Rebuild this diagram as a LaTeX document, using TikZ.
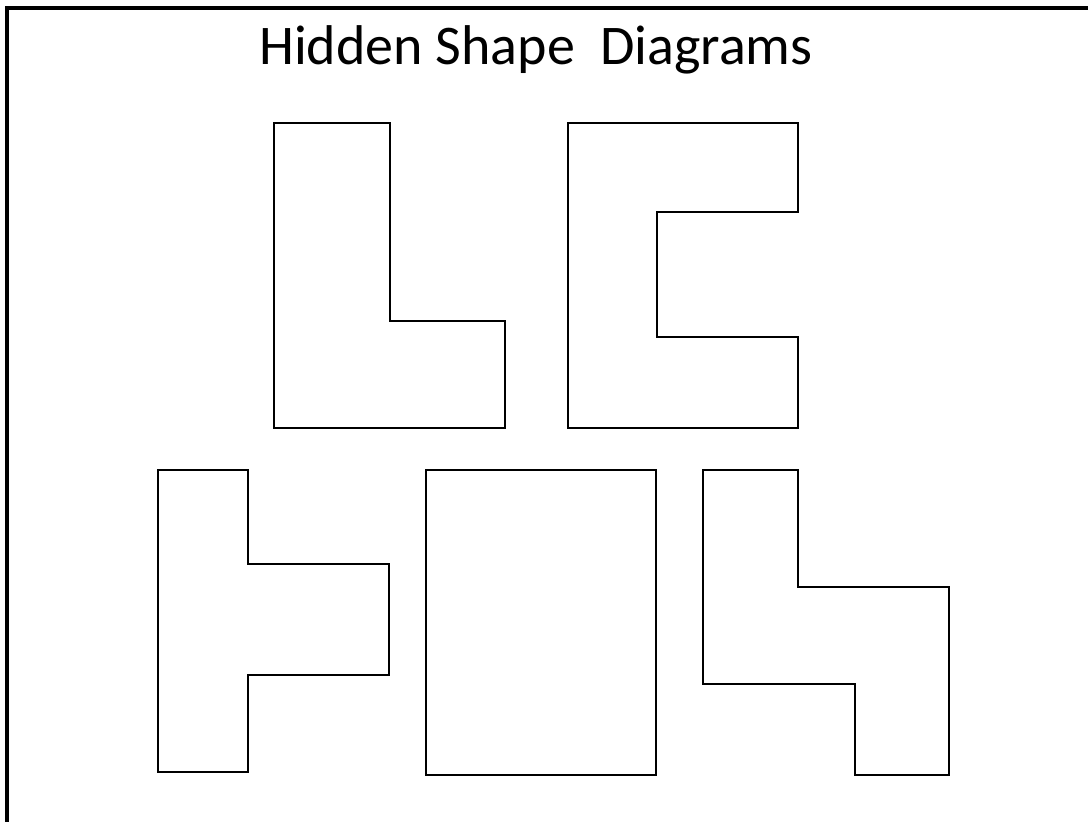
\documentclass[tikz,border=0pt]{standalone}
\usepackage{fontspec}
\setmainfont{Carlito}
\begin{document}
\begin{tikzpicture}[x=0.75pt,y=-0.75pt,
  outline/.style={draw=black,line width=1.6pt,line join=miter},
  borderline/.style={draw=black,line width=2.4pt}]
\clip (0,0) rectangle (1088,821);
\fill[white] (0,0) rectangle (1088,821);
\draw[borderline] (7,8) rectangle (1110,840);
\node[anchor=center,inner sep=0pt] (title) at (536,50) {\fontsize{42}{50}\selectfont Hidden Shape\ \ Diagrams};
% L shape
\draw[outline] (274,123) -- (390,123) -- (390,321) -- (505,321) -- (505,428) -- (274,428) -- cycle;
% C shape
\draw[outline] (568,123) -- (798,123) -- (798,212) -- (657,212) -- (657,337) -- (798,337) -- (798,428) -- (568,428) -- cycle;
% T shape
\draw[outline] (158,470) -- (248,470) -- (248,564) -- (389,564) -- (389,675) -- (248,675) -- (248,772) -- (158,772) -- cycle;
% square
\draw[outline] (426,470) -- (656,470) -- (656,775) -- (426,775) -- cycle;
% S shape
\draw[outline] (703,470) -- (798,470) -- (798,587) -- (949,587) -- (949,775) -- (855,775) -- (855,684) -- (703,684) -- cycle;
\end{tikzpicture}
\end{document}
